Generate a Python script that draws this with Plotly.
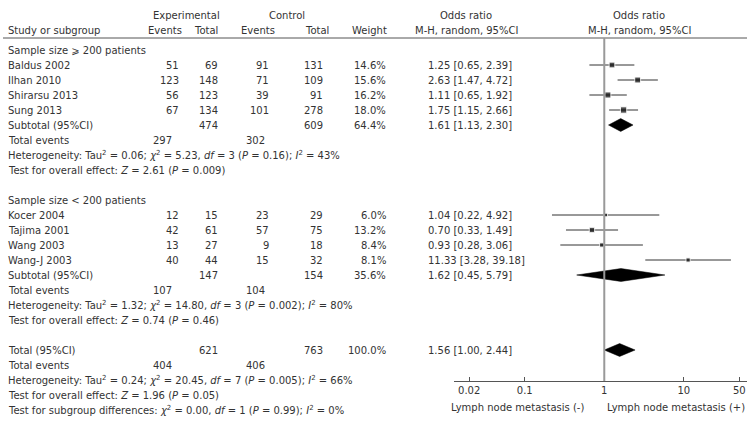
import math
import plotly.graph_objects as go

# study level data
studies = ["Baldus 2002", "Ilhan 2010", "Shirarsu 2013", "Sung 2013",
           "Kocer 2004", "Tajima 2001", "Wang 2003", "Wang-J 2003"]
group = [1, 1, 1, 1, 2, 2, 2, 2]
exp_events = [51, 123, 56, 67, 12, 42, 13, 40]
exp_total = [69, 148, 123, 134, 15, 61, 27, 44]
ctl_events = [91, 71, 39, 101, 23, 57, 9, 15]
ctl_total = [131, 109, 91, 278, 29, 75, 18, 32]
weights = [14.6, 15.6, 16.2, 18.0, 6.0, 13.2, 8.4, 8.1]
odds = [1.25, 2.63, 1.11, 1.75, 1.04, 0.70, 0.93, 11.33]
ci_low = [0.65, 1.47, 0.65, 1.15, 0.22, 0.33, 0.28, 3.28]
ci_high = [2.39, 4.72, 1.92, 2.66, 4.92, 1.49, 3.06, 39.18]

# pooled results: subgroup 1, subgroup 2, overall
pooled_label = ["Subtotal (95%CI)", "Subtotal (95%CI)", "Total (95%CI)"]
pooled_exp_total = [474, 147, 621]
pooled_ctl_total = [609, 154, 763]
pooled_weight = [64.4, 35.6, 100.0]
pooled_or = [1.61, 1.62, 1.56]
pooled_low = [1.13, 0.45, 1.00]
pooled_high = [2.30, 5.79, 2.44]
total_exp_events = [297, 107, 404]
total_ctl_events = [302, 104, 406]
heterogeneity = [
    "Heterogeneity: Tau<sup>2</sup> = 0.06; <i>χ</i><sup>2</sup> = 5.23, <i>df</i> = 3 (<i>P</i> = 0.16); <i>I</i><sup>2</sup> = 43%",
    "Heterogeneity: Tau<sup>2</sup> = 1.32; <i>χ</i><sup>2</sup> = 14.80, <i>df</i> = 3 (<i>P</i> = 0.002); <i>I</i><sup>2</sup> = 80%",
    "Heterogeneity: Tau<sup>2</sup> = 0.24; <i>χ</i><sup>2</sup> = 20.45, <i>df</i> = 7 (<i>P</i> = 0.005); <i>I</i><sup>2</sup> = 66%",
]
overall_effect = [
    "Test for overall effect: <i>Z</i> = 2.61 (<i>P</i> = 0.009)",
    "Test for overall effect: <i>Z</i> = 0.74 (<i>P</i> = 0.46)",
    "Test for overall effect: <i>Z</i> = 1.96 (<i>P</i> = 0.05)",
]
subgroup_test = "Test for subgroup differences: <i>χ</i><sup>2</sup> = 0.00, <i>df</i> = 1 (<i>P</i> = 0.99); <i>I</i><sup>2</sup> = 0%"
group_titles = ["Sample size ⩾ 200 patients", "Sample size < 200 patients"]

tick_vals = [0.02, 0.1, 1, 10, 50]
tick_text = ["0.02", "0.1", "1", "10", "50"]

W, H = 749, 427
ROW0, ROWH = 50, 15.0   # pixel of first row, row height
FONT = "DejaVu Sans"
FS = 10
TXT = "#333333"


def px(x):
    return x / W


def slot_of(pixel):
    return (pixel - ROW0) / ROWH


annotations = []


def txt(x, y, s, anchor="left", yref="y"):
    annotations.append(dict(x=px(x), y=y, xref="paper", yref=yref, text=s,
                            showarrow=False, xanchor=anchor, yanchor="middle",
                            font=dict(family=FONT, size=FS, color=TXT)))


def ci_text(o, lo, hi):
    return f"{o:.2f} [{lo:.2f}, {hi:.2f}]"


# headers
hy1, hy2 = slot_of(15), slot_of(30)
txt(186, hy1, "Experimental", "center")
txt(287, hy1, "Control", "center")
txt(466, hy1, "Odds ratio", "center")
txt(639, hy1, "Odds ratio", "center")
txt(6, hy2, "Study or subgroup")
txt(165, hy2, "Events", "center")
txt(206, hy2, "Total", "center")
txt(258, hy2, "Events", "center")
txt(317, hy2, "Total", "center")
txt(389, hy2, "Weight", "right")
txt(466, hy2, "M-H, random, 95%CI", "center")
txt(639, hy2, "M-H, random, 95%CI", "center")

# study rows, grouped; each group is followed by its 4 summary rows and a gap
study_y = []
pooled_y = []
slot = 0
for g in (1, 2):
    txt(6, slot, group_titles[g - 1])
    slot += 1
    for i, s in enumerate(studies):
        if group[i] != g:
            continue
        study_y.append(slot)
        txt(6, slot, s)
        txt(181, slot, str(exp_events[i]), "right")
        txt(220, slot, str(exp_total[i]), "right")
        txt(271, slot, str(ctl_events[i]), "right")
        txt(325, slot, str(ctl_total[i]), "right")
        txt(388, slot, f"{weights[i]:.1f}%", "right")
        txt(426, slot, ci_text(odds[i], ci_low[i], ci_high[i]))
        slot += 1
    pooled_y.append(slot)
    slot += 5
pooled_y.append(slot)

# pooled rows text (subgroups + overall)
for k in range(3):
    y = pooled_y[k]
    txt(6, y, pooled_label[k])
    txt(220, y, str(pooled_exp_total[k]), "right")
    txt(325, y, str(pooled_ctl_total[k]), "right")
    txt(388, y, f"{pooled_weight[k]:.1f}%", "right")
    txt(426, y, ci_text(pooled_or[k], pooled_low[k], pooled_high[k]))
    txt(6, y + 1, "Total events")
    txt(174, y + 1, str(total_exp_events[k]), "right")
    txt(267, y + 1, str(total_ctl_events[k]), "right")
    txt(6, y + 2, heterogeneity[k])
    txt(6, y + 3, overall_effect[k])
txt(6, pooled_y[2] + 4, subgroup_test)

# axis side labels
lab_y = 1 - 407 / H
txt(517, lab_y, "Lymph node metastasis (-)", "center", "paper")
txt(747, lab_y, "Lymph node metastasis (+)", "right", "paper")

fig = go.Figure()

# confidence interval whiskers
cx, cy = [], []
for lo, hi, y in zip(ci_low, ci_high, study_y):
    cx += [lo, hi, None]
    cy += [y, y, None]
fig.add_trace(go.Scatter(x=cx, y=cy, mode="lines",
                         line=dict(color="#333333", width=1), hoverinfo="skip"))

# study squares, sized by weight
fig.add_trace(go.Scatter(x=odds, y=study_y, mode="markers",
                         marker=dict(symbol="square", color="black",
                                     size=[1.5 * math.sqrt(w) for w in weights]),
                         hoverinfo="skip"))

# pooled diamonds
for k in range(3):
    y = pooled_y[k]
    fig.add_trace(go.Scatter(
        x=[pooled_low[k], pooled_or[k], pooled_high[k], pooled_or[k], pooled_low[k]],
        y=[y, y - 0.43, y, y + 0.43, y],
        mode="lines", fill="toself", fillcolor="black",
        line=dict(color="black", width=0.5), hoverinfo="skip"))

line_top = slot_of(38)
axis_y = slot_of(381)
shapes = [
    dict(type="line", xref="paper", yref="y", x0=px(3), x1=px(747),
         y0=line_top, y1=line_top, line=dict(color="#555555", width=1)),
    dict(type="line", xref="x", yref="y", x0=1, x1=1, y0=line_top, y1=axis_y,
         line=dict(color="#999999", width=2)),
]

fig.update_layout(
    width=W, height=H,
    margin=dict(l=0, r=0, t=0, b=0),
    paper_bgcolor="white",
    plot_bgcolor="rgba(0,0,0,0)",
    showlegend=False,
    annotations=annotations,
    shapes=shapes,
    font=dict(family=FONT, size=FS, color=TXT),
    xaxis=dict(
        type="log",
        domain=[px(454), px(747)],
        range=[-1.89, 1.795],
        anchor="free",
        position=1 - 381 / H,
        showline=True, linecolor="#555555", linewidth=1,
        ticks="inside", ticklen=4, tickcolor="#555555",
        tickvals=tick_vals, ticktext=tick_text,
        showgrid=False, zeroline=False,
        tickfont=dict(family=FONT, size=FS, color=TXT),
    ),
    yaxis=dict(
        range=[slot_of(H), slot_of(0)],
        domain=[0, 1],
        visible=False,
        showgrid=False, zeroline=False,
    ),
)

# page body has a default 8px margin; drop it so the chart fills the window
fig.write_html("out.html", config={"displayModeBar": False},
               post_script="document.body.style.margin='0';")
